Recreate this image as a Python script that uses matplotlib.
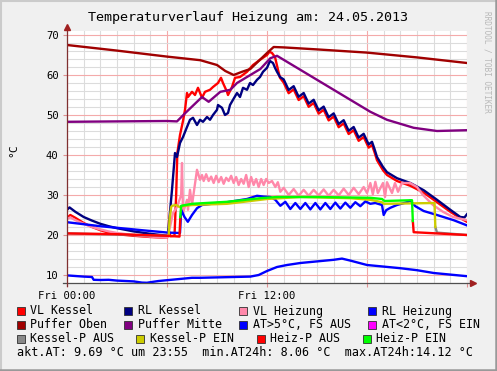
import matplotlib
matplotlib.use('Agg')
import matplotlib.pyplot as plt
from matplotlib.patches import Rectangle
from matplotlib.lines import Line2D

# --- data (hours since midnight, degrees C) ---
vlk_h = [0, 0.2, 0.5, 1, 1.5, 2, 2.5, 3, 4, 5, 6.0, 6.12, 6.2, 6.45, 6.55, 6.62, 6.78, 6.96, 7.08, 7.2,
         7.26, 7.5, 7.68, 7.86, 8.1, 8.28, 8.58, 8.76, 9.06, 9.24, 9.36, 9.6, 9.66, 9.9, 10.08, 10.38, 10.8,
         11.16, 11.58, 12.0, 12.15, 12.3, 12.48, 12.66, 12.78, 13.0, 13.3, 13.6, 13.9, 14.2, 14.5, 14.8,
         15.1, 15.4, 15.7, 16.0, 16.3, 16.6, 16.9, 17.2, 17.5, 17.8, 18.1, 18.3, 18.45, 18.6, 18.96, 19.2,
         19.8, 20.6, 21.4, 22.2, 23.0, 23.6, 24.0]
vlk_v = [24.3, 25.0, 24.3, 23.0, 22.0, 21.2, 20.6, 20.2, 19.8, 19.5, 19.3, 21.0, 19.7, 19.8, 30.0, 40.5, 45.0, 48.5, 51.3, 55.5,
         54.5, 55.8, 55.0, 56.8, 54.3, 55.8, 56.3, 57.0, 58.0, 59.3, 58.0, 55.8, 55.0, 57.0, 59.3, 59.5, 60.8,
         62.5, 63.8, 65.0, 65.8, 65.5, 64.5, 61.3, 59.3, 58.1, 55.45, 56.4, 53.75, 54.7, 52.05, 53.0,
         50.35, 51.3, 48.65, 49.6, 46.95, 47.9, 45.25, 46.2, 43.55, 44.5, 41.85, 42.5, 40.7, 38.7, 36.2, 35.0,
         33.5, 32.3, 30.6, 28.2, 25.8, 24.2, 23.3]

rlk_h = [0, 0.15, 0.5, 1, 1.5, 2, 2.5, 3, 4, 5, 6.05, 6.3, 6.48, 6.6, 6.78, 6.96, 7.2, 7.38, 7.56, 7.8,
         7.98, 8.16, 8.4, 8.58, 8.76, 9.0, 9.06, 9.3, 9.48, 9.66, 9.78, 9.96, 10.2, 10.38, 10.56, 10.8,
         10.98, 11.16, 11.4, 11.58, 11.76, 12.0, 12.18, 12.36, 12.48, 12.6, 12.78, 13.0, 13.3, 13.6, 13.9,
         14.2, 14.5, 14.8, 15.1, 15.4, 15.7, 16.0, 16.3, 16.6, 16.9, 17.2, 17.5, 17.8, 18.1, 18.3, 18.45,
         18.6, 18.96, 19.2, 19.8, 20.6, 21.4, 22.2, 23.0, 23.6, 23.85, 24.0]
rlk_v = [26.3, 26.9, 25.8, 24.5, 23.6, 22.8, 22.2, 21.7, 20.9, 20.3, 19.8, 31.3, 40.5, 39.5, 43.0, 44.5, 47.0, 48.8, 49.3, 47.5,
         48.8, 48.3, 49.5, 48.8, 50.0, 51.3, 52.5, 51.8, 50.0, 50.5, 52.5, 53.8, 55.5, 54.5, 56.8, 56.3,
         58.0, 57.5, 58.8, 59.5, 60.8, 61.8, 63.5, 63.0, 61.8, 60.8, 59.5, 58.9, 56.25, 57.2, 54.55,
         55.5, 52.85, 53.8, 51.15, 52.1, 49.45, 50.4, 47.75, 48.7, 46.05, 47.0, 44.35, 45.3, 42.65, 43.3, 41.5,
         39.5, 37.0, 35.7, 34.2, 33.0, 31.2, 28.8, 26.3, 24.5, 24.4, 25.2]

vlh_h = [0, 0.2, 0.5, 1, 1.5, 2, 2.5, 3, 4, 5, 6.0, 6.18, 6.36, 6.6, 6.85, 6.9, 6.96, 7.2, 7.26, 7.38,
         7.5, 7.68, 7.8, 7.98, 8.1, 8.2, 8.35, 8.5, 8.65, 8.8, 8.95, 9.1, 9.25, 9.4, 9.55, 9.7, 9.85, 10.0,
         10.15, 10.3, 10.45, 10.6, 10.75, 10.9, 11.05, 11.2, 11.35, 11.5, 11.65, 11.8, 11.95, 12.1, 12.3,
         12.5, 12.65, 12.8, 13.0, 13.3, 13.6, 13.9, 14.2, 14.5, 14.8, 15.1, 15.4, 15.7, 16.0, 16.3, 16.6,
         16.9, 17.2, 17.5, 17.8, 18.0, 18.2, 18.35, 18.5, 18.65, 18.96, 19.08, 19.2, 19.5, 19.68, 19.86,
         20.1, 20.58, 21.0, 21.36, 21.96, 22.56, 23.16, 24.0]
vlh_v = [24.0, 24.4, 23.7, 22.8, 22.0, 21.4, 20.9, 20.5, 20.0, 19.6, 19.3, 22.0, 25.5, 27.0, 30.0, 38.0, 25.5, 28.8, 26.3, 31.3,
         27.5, 32.8, 36.3, 33.8, 35.0, 33.5, 35.2, 33.5, 34.6, 33.0, 34.8, 33.2, 34.5, 32.8, 34.3, 33.5, 34.8, 33.0,
         34.5, 32.5, 34.0, 32.8, 35.0, 32.0, 34.5, 32.5, 34.0, 32.0, 34.0, 32.5, 34.0, 33.0, 33.5,
         32.0, 33.2, 30.8, 31.8, 30.0, 31.5, 29.8, 31.3, 29.8, 31.3, 29.9, 31.4, 29.8, 31.3, 29.9, 31.6,
         30.0, 31.8, 30.2, 32.0, 30.5, 33.0, 30.2, 33.3, 30.5, 33.0, 29.5, 33.2, 30.5, 33.0, 30.8,
         33.0, 33.0, 32.0, 30.0, 27.5, 25.8, 24.5, 23.7]

rlh_h = [0, 1, 2, 3, 4, 5, 6.05, 6.78, 6.85, 7.05, 7.25, 7.5, 7.8, 8.1, 8.5, 9.0, 9.6, 10.2, 10.8, 11.4,
         11.8, 12.2, 12.5, 12.8, 13.1, 13.4, 13.7, 14.0, 14.3, 14.6, 14.9, 15.2, 15.5, 15.8, 16.1, 16.4,
         16.7, 17.0, 17.3, 17.6, 17.9, 18.2, 18.5, 18.9, 19.0, 19.15, 19.4, 19.8, 20.4, 20.6, 20.9, 21.4,
         22.2, 23.2, 24.0]
rlh_v = [23.2, 22.7, 22.2, 21.8, 21.4, 21.0, 20.6, 20.5, 26.3, 24.5, 23.3, 25.0, 26.7, 27.5, 27.7, 28.0, 28.2, 28.6, 29.0, 29.8,
         29.6, 29.5, 28.8, 27.3, 28.3, 26.5, 28.0, 26.5, 28.0, 26.4, 28.0, 26.4, 28.0, 26.5, 28.1, 26.6,
         28.1, 26.8, 28.2, 27.2, 28.4, 27.8, 28.0, 27.5, 25.0, 26.2, 26.8, 27.5, 28.2, 28.6, 27.2, 26.0,
         25.0, 23.7, 22.4]

po_h = [0, 3, 6, 8, 9, 9.5, 10, 10.5, 11, 11.5, 12, 12.4, 13, 15, 18, 21, 24]
po_v = [67.5, 66.1, 64.6, 63.7, 62.5, 61.0, 60.0, 60.8, 61.5, 63.5, 65.5, 67.0, 66.9, 66.4, 65.6, 64.4, 63.0]

pm_h = [0, 6.0, 6.6, 7.1, 7.6, 8.1, 8.5, 9.2, 9.8, 10.2, 11.0, 11.6, 12.2, 12.6, 14.2, 16.2, 18.2, 19.2,
        20.8, 22.2, 24.0]
pm_v = [48.3, 48.5, 48.4, 50.5, 52.5, 54.5, 53.3, 55.8, 56.3, 58.0, 60.0, 61.5, 64.2, 64.8, 60.8, 55.8, 50.8, 48.8,
        46.8, 46.0, 46.2]

at_h = [0, 0.5, 1.0, 1.5, 1.6, 2.0, 2.5, 3.0, 3.5, 4.0, 4.5, 4.8, 5.0, 5.5, 6.0, 6.5, 7.0, 7.5, 8, 9, 10,
        11, 11.5, 12.0, 12.6, 13.2, 14, 15, 16, 16.5, 17, 18, 19, 20, 21, 22, 23, 24]
at_v = [9.9, 9.75, 9.6, 9.5, 8.8, 8.75, 8.8, 8.6, 8.5, 8.4, 8.1, 8.06, 8.2, 8.5, 8.7, 8.9, 9.1, 9.3, 9.3, 9.4, 9.5,
        9.6, 10.0, 11.0, 12.0, 12.5, 13.0, 13.4, 13.8, 14.1, 13.6, 12.5, 12.1, 11.7, 11.2, 10.5, 10.1, 9.7]

# pump state lines (Kessel-P / Heiz-P)
kp_aus1_h = [0, 6.1]
kp_aus1_v = [20.4, 19.8]
kp_ein_h = [6.1, 6.15, 6.25, 6.3, 6.55, 6.75, 6.85, 7.5, 9.6, 12.0, 14.0, 17.0, 18.2, 18.9, 19.0, 22.05, 22.1]
kp_ein_v = [19.8, 23.8, 27.0, 27.3, 27.5, 27.0, 27.2, 27.5, 27.8, 29.0, 29.5, 29.2, 28.8, 28.2, 27.8, 28.0, 22.0]
kp_aus2_h = [22.1, 22.2, 24.0]
kp_aus2_v = [22.0, 20.6, 20.0]
hp_aus1_h = [0, 3, 6.0, 6.75, 6.8]
hp_aus1_v = [20.4, 20.2, 19.8, 19.6, 24.5]
hp_ein_h = [6.8, 6.85, 7.5, 9.6, 11.6, 12.6, 15.0, 18.2, 18.9, 19.05, 20.7, 20.75]
hp_ein_v = [24.5, 27.3, 27.8, 28.3, 29.2, 29.5, 29.5, 29.3, 29.0, 28.5, 28.7, 23.5]
hp_aus2_h = [20.75, 20.8, 24.0]
hp_aus2_v = [23.5, 20.7, 20.0]

legend_rows = [
    [('VL Kessel', '#FF0000', 17, 30), ('RL Kessel', '#000080', 124, 138),
     ('VL Heizung', '#FF88AA', 239, 253), ('RL Heizung', '#0000FF', 368, 382)],
    [('Puffer Oben', '#A00000', 17, 30), ('Puffer Mitte', '#800080', 124, 138),
     ('AT>5°C, FS AUS', '#0000FF', 239, 253), ('AT<2°C, FS EIN', '#FF00FF', 368, 382)],
    [('Kessel-P AUS', '#888888', 17, 30), ('Kessel-P EIN', '#CCCC00', 136, 150),
     ('Heiz-P AUS', '#FF0000', 257, 270), ('Heiz-P EIN', '#00FF00', 363, 376)],
]
stats_line = 'akt.AT: 9.69 °C um 23:55  min.AT24h: 8.06 °C  max.AT24h:14.12 °C'

W, H = 497, 371
plt.rcParams['font.family'] = 'DejaVu Sans Mono'

fig = plt.figure(figsize=(W / 100, H / 100), dpi=100, facecolor='#F0F0F0')
ax = fig.add_axes([67 / W, 88 / H, 400 / W, 252 / H])
ax.set_facecolor('white')
ax.set_xlim(0, 24)
ax.set_ylim(8, 71)

ax.set_xticks([0, 6, 12, 18, 24])
ax.set_xticklabels(['Fri 00:00', '', 'Fri 12:00', '', ''])
ax.set_xticks(range(0, 25), minor=True)
ax.set_yticks(range(10, 71, 10))
ax.set_yticks(range(8, 71, 2), minor=True)
ax.grid(which='minor', color='#DCDCDC', lw=0.8)
ax.grid(which='major', color='#F4AAAA', lw=0.8)
ax.set_axisbelow(True)
ax.tick_params(which='major', length=3, color='#E09090', width=0.8, labelsize=7.6, pad=3)
ax.tick_params(which='minor', length=0)
for s in ax.spines.values():
    s.set_visible(False)

lw = 1.7
ax.plot(vlk_h, vlk_v, color='#FF0000', lw=lw)
ax.plot(rlk_h, rlk_v, color='#000080', lw=lw)
ax.plot(vlh_h, vlh_v, color='#FF88AA', lw=lw)
ax.plot(rlh_h, rlh_v, color='#0000FF', lw=lw)
ax.plot(po_h, po_v, color='#A00000', lw=lw)
ax.plot(pm_h, pm_v, color='#800080', lw=lw)
ax.plot(at_h, at_v, color='#0000FF', lw=lw)
ax.plot(kp_aus1_h, kp_aus1_v, color='#888888', lw=lw)
ax.plot(kp_aus2_h, kp_aus2_v, color='#888888', lw=lw)
ax.plot(kp_ein_h, kp_ein_v, color='#CCCC00', lw=lw)
ax.plot(hp_aus1_h, hp_aus1_v, color='#FF0000', lw=lw)
ax.plot(hp_aus2_h, hp_aus2_v, color='#FF0000', lw=lw)
ax.plot(hp_ein_h, hp_ein_v, color='#00FF00', lw=lw)

# axes with arrows
ax.plot([-0.25, 24.3], [8, 8], color='#505050', lw=0.9, clip_on=False)
ax.plot([0, 0], [7.3, 71.8], color='#803030', lw=0.9, clip_on=False)
ax.plot([24.35], [8], marker='>', color='#A02020', ms=4, clip_on=False)
ax.plot([0], [72.0], marker='^', color='#A02020', ms=4, clip_on=False)

fig.text(0.5, 1 - 17 / H, 'Temperaturverlauf Heizung am: 24.05.2013', ha='center', va='center', fontsize=9.6)
fig.text(13 / W, 1 - 150 / H, '°C', rotation=90, ha='center', va='center', fontsize=8.2)
fig.text(487 / W, 1 - 62 / H, 'RRDTOOL / TOBI OETIKER', rotation=270, ha='center', va='center',
         fontsize=5.6, color='#B8B8B8')

row_y = [311, 325, 339]
for y, row in zip(row_y, legend_rows):
    for label, col, sx, tx in row:
        fig.patches.append(Rectangle((sx / W, 1 - (y + 4) / H), 8 / W, 8 / H, transform=fig.transFigure,
                                     facecolor=col, edgecolor='#303030', lw=0.6))
        fig.text(tx / W, 1 - y / H, label, ha='left', va='center', fontsize=8.4)
fig.text(17 / W, 1 - 353 / H, stats_line, ha='left', va='center', fontsize=8.45)

# frame
fig.add_artist(Line2D([0, 1], [1 - 0.5 / H, 1 - 0.5 / H], transform=fig.transFigure, color='#CBCBCB', lw=1.5))
fig.add_artist(Line2D([0.5 / W, 0.5 / W], [0, 1], transform=fig.transFigure, color='#CBCBCB', lw=1.5))
fig.add_artist(Line2D([0, 1], [1 / H, 1 / H], transform=fig.transFigure, color='#999999', lw=1.8))
fig.add_artist(Line2D([1 - 1 / W, 1 - 1 / W], [0, 1], transform=fig.transFigure, color='#999999', lw=1.8))

fig.savefig('out.png', dpi=100, facecolor=fig.get_facecolor())
